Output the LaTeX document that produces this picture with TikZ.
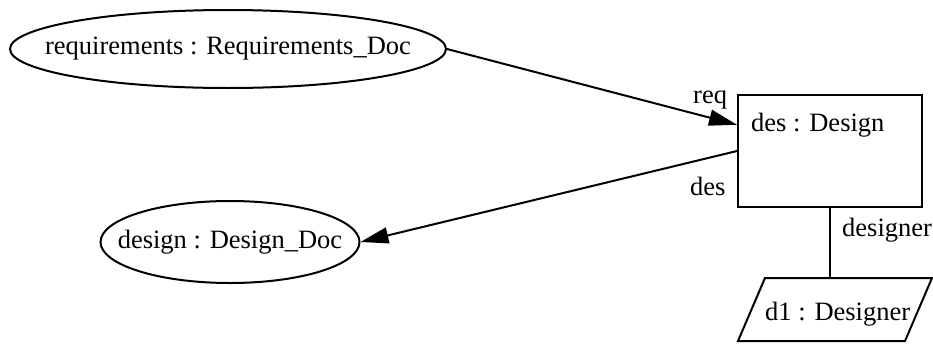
\documentclass[tikz,border=0pt]{standalone}
\usepackage{fontspec}
\setmainfont{Liberation Serif}
\usetikzlibrary{shapes.geometric,arrows.meta,calc}
\begin{document}
\begin{tikzpicture}[x=1pt,y=-1pt,
  every node/.style={font=\fontsize{26.5}{30}\selectfont, inner sep=0pt},
  line/.style={line width=2pt},
  docobj/.style={ellipse, draw, line width=2pt},
  arr/.style={line, -{Triangle[length=28pt,width=16pt]}},
  lbl/.style={anchor=base west}]
  \useasboundingbox (0,0) rectangle (933,343);

  % document objects (outline sized explicitly, name set inside)
  \node[docobj, minimum width=436pt, minimum height=78pt] (req) at (228,49) {};
  \node (reqtext) at (req.center) {requirements : Requirements\_Doc};
  \node[docobj, minimum width=259pt, minimum height=82pt] (design) at (230,242) {};
  \node (designtext) at (design.center) {design : Design\_Doc};

  % design activity box
  \node[draw, line, minimum width=184pt, minimum height=112pt] (desbox) at (830,151) {};
  \node[lbl] (destext) at (751,131) {des : Design};

  % designer role: parallelogram outline with its name inside
  \draw[line] (765,278) coordinate (d1tl) -- (932,278) -- (905,341) -- (738,341) -- cycle;
  \node[lbl] (d1) at (765,320) {d1 : Designer};

  % connectors
  \coordinate (reqin) at ($(desbox.north west)!0.27!(desbox.south west)$);
  \draw[arr] (req.east) -- (reqin);
  \draw[arr] (desbox.west) -- (design.east);
  \draw[line] (desbox.south) -- (desbox.south |- d1tl);

  % role labels
  \node[lbl] (reqlbl) at (693,103) {req};
  \node[lbl] (deslbl) at (690,195) {des};
  \node[lbl] (dsnlbl) at (842,236) {designer};
\end{tikzpicture}
\end{document}
